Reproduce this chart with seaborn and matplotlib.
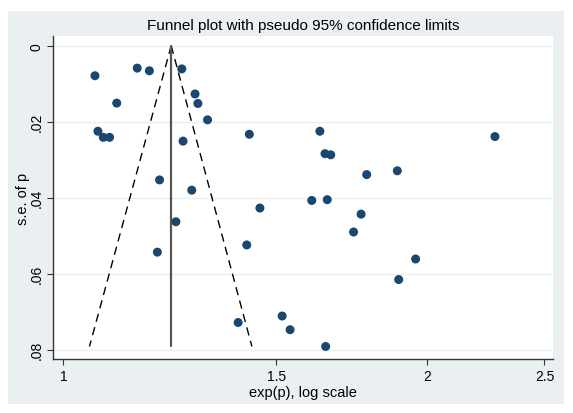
import seaborn as sns
import matplotlib.pyplot as plt
import pandas as pd
from matplotlib.patches import Rectangle
from matplotlib.ticker import FixedLocator, NullLocator

# study estimates (exp scale) and their standard errors
exp_p = [1.062, 1.151, 1.178, 1.253, 1.285, 1.292, 1.107, 1.316, 1.068, 1.079,
         1.092, 1.425, 1.256, 1.201, 1.277, 1.239, 1.196, 1.454, 1.418, 1.395,
         1.517, 1.540, 1.630, 1.646, 1.664, 1.782, 1.889, 2.275, 1.605, 1.653,
         1.763, 1.738, 1.956, 1.894, 1.648]
se_p = [0.0079, 0.0059, 0.0066, 0.0061, 0.0127, 0.0152, 0.0151, 0.0195, 0.0225, 0.0241,
        0.0241, 0.0233, 0.0251, 0.0353, 0.0380, 0.0463, 0.0543, 0.0427, 0.0524, 0.0728,
        0.0711, 0.0747, 0.0225, 0.0284, 0.0287, 0.0339, 0.0329, 0.0239, 0.0407, 0.0405,
        0.0443, 0.0490, 0.0561, 0.0615, 0.0791]

# pooled estimate and pseudo 95% limits (apex and bottom of the funnel)
funnel_se = [0.0, 0.0791]
pooled = [1.228, 1.228]
lower = [1.228, 1.051]
upper = [1.228, 1.432]

xticks = [1, 1.5, 2, 2.5]
xtick_labels = ["1", "1.5", "2", "2.5"]
yticks = [0, 0.02, 0.04, 0.06, 0.08]
ytick_labels = ["0", ".02", ".04", ".06", ".08"]

studies = pd.DataFrame({"exp_p": exp_p, "se": se_p})
funnel = pd.DataFrame({"se": funnel_se, "pooled": pooled, "lower": lower, "upper": upper})

sns.set_theme(style="white")
plt.rcParams['font.family'] = ['Liberation Sans', 'DejaVu Sans']

fig = plt.figure(figsize=(5.73, 4.14), dpi=100)
fig.patch.set_facecolor("white")
# stata-like graph region
fig.patches.append(Rectangle((8 / 573, 9 / 414), 556 / 573, 393 / 414,
                             transform=fig.transFigure, facecolor="#eaf0f2",
                             edgecolor="none", zorder=-5))

ax = fig.add_axes([53.3 / 573, 1 - 360 / 414, 499.7 / 573, 323 / 414])
ax.set_zorder(1)
ax.set_facecolor("white")

for yt in yticks:
    ax.axhline(yt, color="#eaf0f2", lw=1, zorder=0)

sns.lineplot(data=funnel, x="lower", y="se", sort=False, estimator=None,
             color="black", lw=1, ax=ax)
sns.lineplot(data=funnel, x="upper", y="se", sort=False, estimator=None,
             color="black", lw=1, ax=ax)
ax.lines[-1].set_dashes((6, 4))
ax.lines[-2].set_dashes((6, 4))
sns.lineplot(data=funnel, x="pooled", y="se", sort=False, estimator=None,
             color="#555555", lw=1.6, ax=ax)

sns.scatterplot(data=studies, x="exp_p", y="se", color="#1a476f", s=42,
                edgecolor="none", ax=ax, zorder=3)

ax.set_xscale("log")
ax.set_xlim(0.981, 2.541)
ax.set_ylim(0.0824, -0.00255)
ax.xaxis.set_major_locator(FixedLocator(xticks))
ax.xaxis.set_minor_locator(NullLocator())
ax.set_xticklabels(xtick_labels)
ax.set_yticks(yticks)
ax.set_yticklabels(ytick_labels, rotation=90, va="center")

ax.tick_params(axis="both", direction="out", length=4, width=0.8,
               color="#333333", labelsize=10, labelcolor="black", pad=3)
ax.tick_params(axis="x", bottom=True)
ax.tick_params(axis="y", left=True)

for side in ["top", "right"]:
    ax.spines[side].set_visible(False)
for side in ["left", "bottom"]:
    ax.spines[side].set_color("#333333")
    ax.spines[side].set_linewidth(1)

ax.set_xlabel("exp(p), log scale", fontsize=10.5, color="black", labelpad=2)
ax.set_ylabel("s.e. of p", fontsize=10.5, color="black", labelpad=0)
ax.set_title("Funnel plot with pseudo 95% confidence limits", fontsize=11,
             color="black", pad=5)

fig.savefig("out.png", dpi=100)
